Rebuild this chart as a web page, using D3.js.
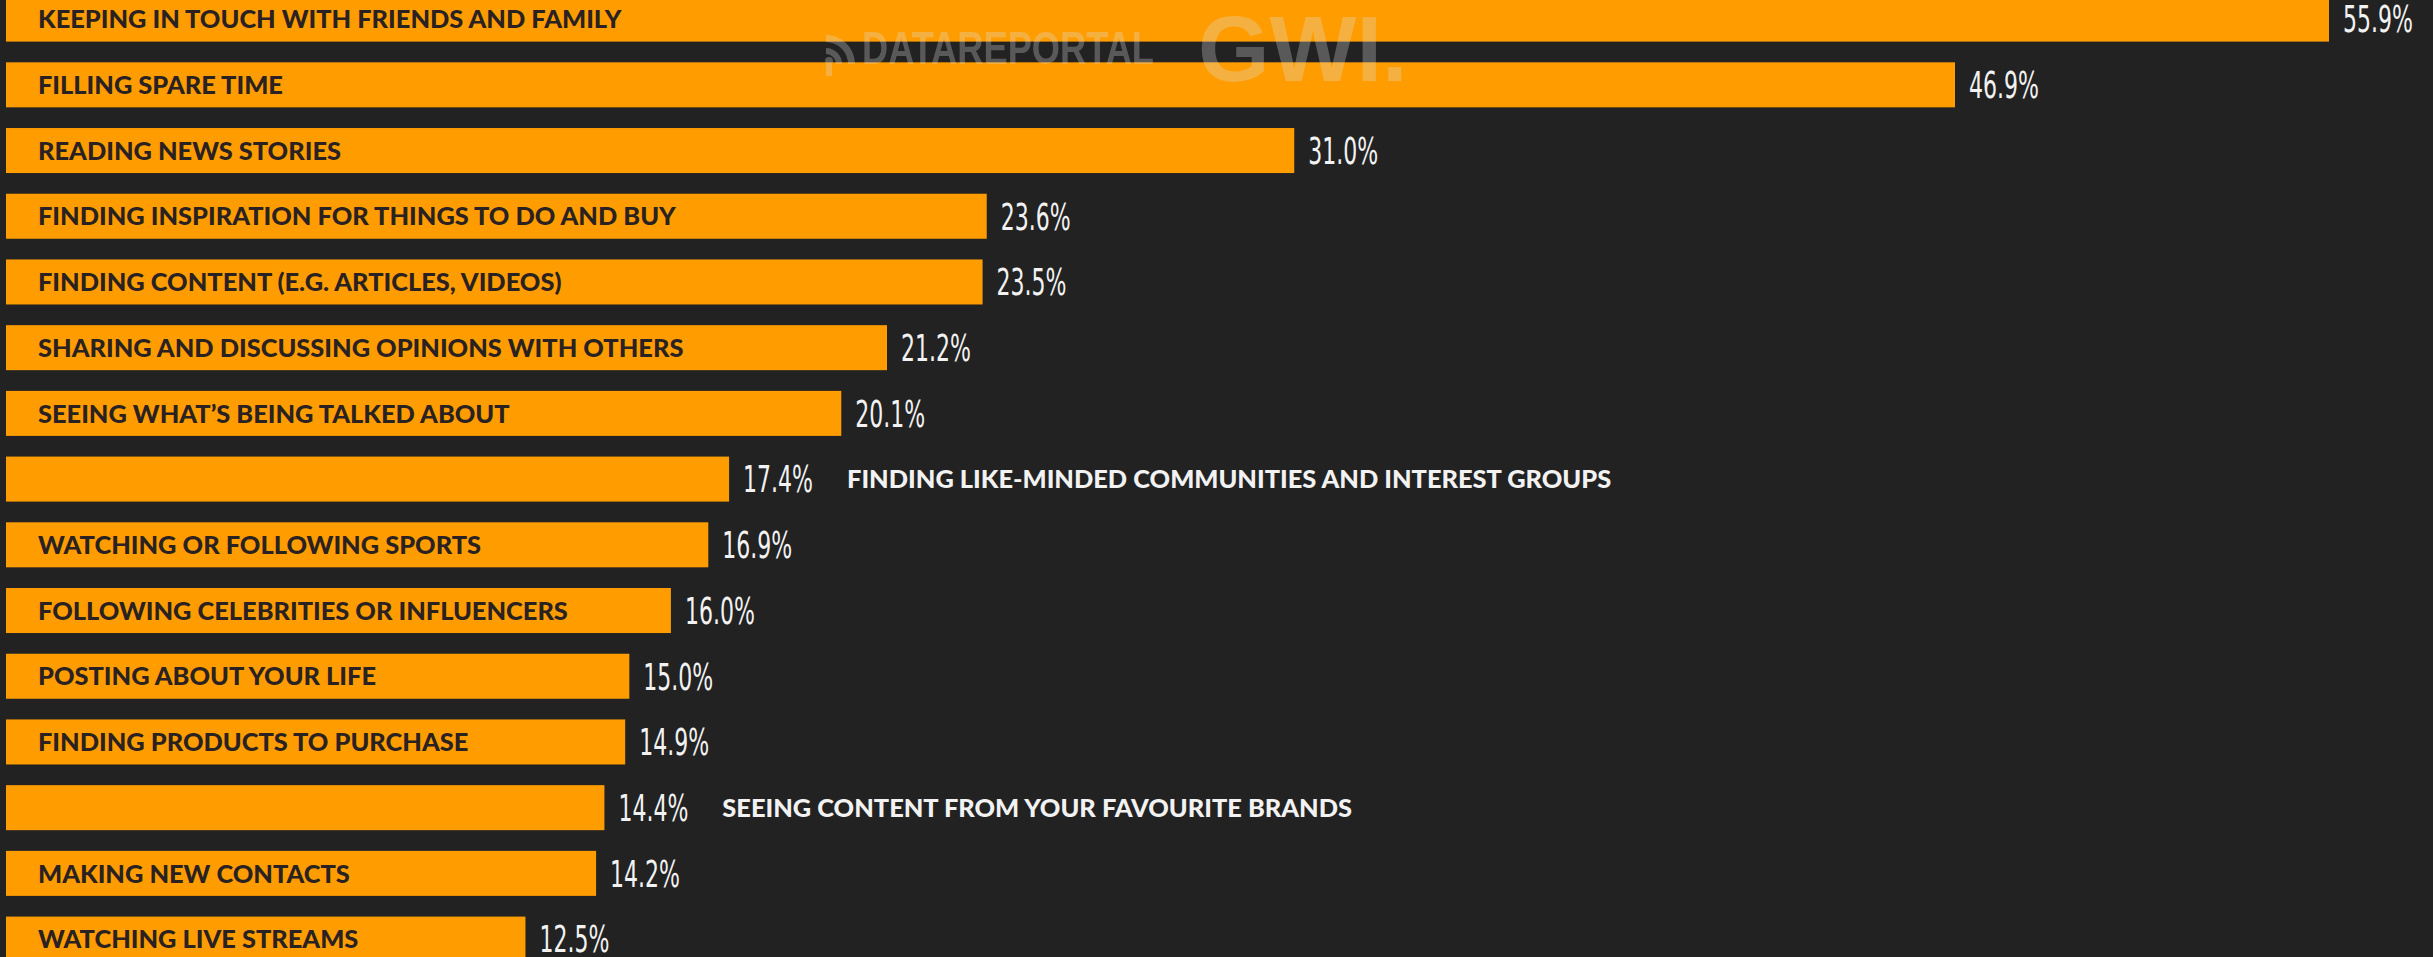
<!DOCTYPE html>
<html>
<head>
<meta charset="utf-8">
<script src="https://cdn.jsdelivr.net/npm/d3@7"></script>
<style>
  html, body { margin: 0; padding: 0; background: #222222; overflow: hidden; }
  svg { display: block; }
</style>
</head>
<body>
<svg id="chart" width="2433" height="957"></svg>
<script>
// Main reasons for using social media (share of internet users)
const categories = [
  "KEEPING IN TOUCH WITH FRIENDS AND FAMILY",
  "FILLING SPARE TIME",
  "READING NEWS STORIES",
  "FINDING INSPIRATION FOR THINGS TO DO AND BUY",
  "FINDING CONTENT (E.G. ARTICLES, VIDEOS)",
  "SHARING AND DISCUSSING OPINIONS WITH OTHERS",
  "SEEING WHAT\u2019S BEING TALKED ABOUT",
  "FINDING LIKE-MINDED COMMUNITIES AND INTEREST GROUPS",
  "WATCHING OR FOLLOWING SPORTS",
  "FOLLOWING CELEBRITIES OR INFLUENCERS",
  "POSTING ABOUT YOUR LIFE",
  "FINDING PRODUCTS TO PURCHASE",
  "SEEING CONTENT FROM YOUR FAVOURITE BRANDS",
  "MAKING NEW CONTACTS",
  "WATCHING LIVE STREAMS"
];
const values = [55.9, 46.9, 31.0, 23.6, 23.5, 21.2, 20.1, 17.4, 16.9, 16.0, 15.0, 14.9, 14.4, 14.2, 12.5];

const rows = categories.map((c, i) => ({ category: c, value: values[i] }));

const W = 2433, H = 957;
const BAR = "#FF9D00";
const BG = "#222222";
const INK = "#2a2222";
const LIGHT = "#f2f2f2";
const LABEL_FONT = "Lato, 'Liberation Sans', sans-serif";
const VALUE_FONT = "'Liberation Sans Narrow', 'DejaVu Sans Condensed', 'Liberation Sans', sans-serif";

const svg = d3.select("#chart");
svg.append("rect").attr("width", W).attr("height", H).attr("fill", BG);

const x = d3.scaleLinear()
  .domain([0, d3.max(values)])
  .range([6, 2329]);

const y = d3.scaleBand()
  .domain(categories)
  .range([-3.4, 961.6])
  .paddingInner(0.315)
  .paddingOuter(0);

const g = svg.append("g");

// bars
g.selectAll("rect.bar")
  .data(rows)
  .join("rect")
  .attr("class", "bar")
  .attr("x", x(0))
  .attr("y", d => y(d.category))
  .attr("width", d => x(d.value) - x(0))
  .attr("height", y.bandwidth())
  .attr("fill", BAR);

// value labels: tall condensed numerals, squeezed so that "00.0%" is ~70px wide
const probe = svg.append("text")
  .attr("font-family", VALUE_FONT).attr("font-size", 37).text("55.9%");
const valueScaleX = 70 / probe.node().getComputedTextLength();
probe.remove();

const valueLabels = g.selectAll("g.val")
  .data(rows)
  .join("g")
  .attr("class", "val")
  .attr("transform", d => `translate(${x(d.value) + 14},${y(d.category) + y.bandwidth() / 2}) scale(${valueScaleX},1)`);

valueLabels.append("text")
  .attr("dy", "0.36em")
  .attr("font-family", VALUE_FONT)
  .attr("font-size", 37)
  .attr("fill", LIGHT)
  .text(d => d.value.toFixed(1) + "%");

// category labels: inside the bar when they fit, otherwise after the value
const inset = 32;
g.selectAll("text.cat")
  .data(rows)
  .join("text")
  .attr("class", "cat")
  .attr("y", d => y(d.category) + y.bandwidth() / 2)
  .attr("dy", "0.36em")
  .attr("font-family", LABEL_FONT)
  .attr("font-weight", 900)
  .attr("font-size", 25.4)
  .text(d => d.category)
  .each(function (d, i) {
    const t = d3.select(this);
    const w = this.getComputedTextLength();
    const barW = x(d.value) - x(0);
    if (w + inset * 2 <= barW) {
      t.attr("x", x(0) + inset).attr("fill", INK);
    } else {
      const vNode = valueLabels.filter((_, j) => j === i).select("text").node();
      const vW = vNode.getComputedTextLength() * valueScaleX;
      t.attr("x", x(d.value) + 14 + vW + 34).attr("fill", LIGHT);
    }
  });

// source watermark
const wm = svg.append("g").attr("opacity", 0.3).attr("fill", "#dddddd");
const icon = wm.append("g").attr("transform", "translate(826,64)");
// stylised "D" with signal arcs
icon.append("path")
  .attr("d", d3.arc()({ innerRadius: 22, outerRadius: 29, startAngle: 0, endAngle: Math.PI / 2 }));
icon.append("path")
  .attr("d", d3.arc()({ innerRadius: 10, outerRadius: 16, startAngle: 0, endAngle: Math.PI / 2 }));
icon.append("circle").attr("cx", 3).attr("cy", -3).attr("r", 4);
icon.append("rect").attr("x", 0).attr("y", 0).attr("width", 6).attr("height", 12);

const dr = wm.append("g").attr("transform", "translate(862,64)");
const drText = dr.append("text")
  .attr("font-family", "'Liberation Sans', sans-serif")
  .attr("font-weight", 700)
  .attr("font-size", 46)
  .text("DATAREPORTAL");
dr.attr("transform", `translate(862,64) scale(${292 / drText.node().getComputedTextLength()},1)`);

wm.append("text")
  .attr("x", 1198).attr("y", 81)
  .attr("font-family", "'Liberation Sans', sans-serif")
  .attr("font-weight", 700)
  .attr("font-size", 92)
  .text("GWI.");
</script>
</body>
</html>
